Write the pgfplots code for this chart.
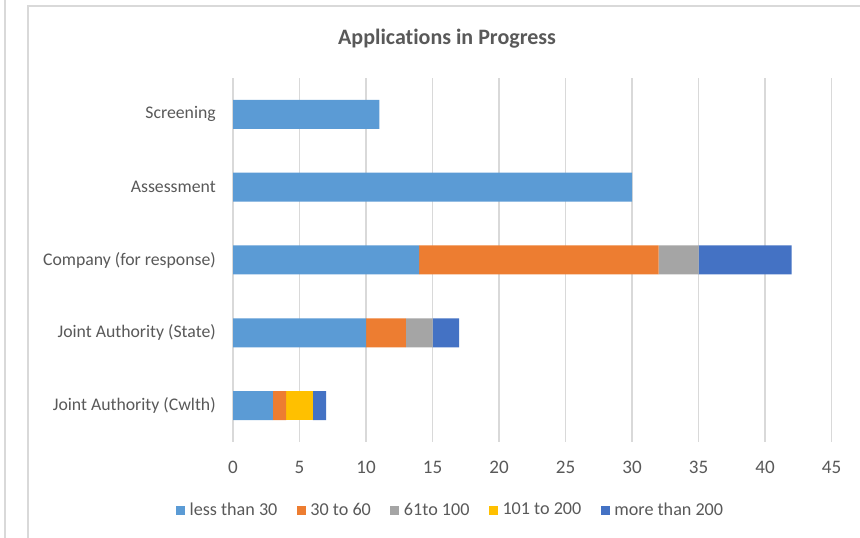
\documentclass[border=0pt]{standalone}
\usepackage{fontspec}
\setmainfont[Ligatures={NoCommon}]{Carlito}
\usepackage{pgfplots}
\pgfplotsset{compat=1.18}
\usepackage{pgfplotstable}
\definecolor{c1}{HTML}{5B9BD5}
\definecolor{c2}{HTML}{ED7D31}
\definecolor{c3}{HTML}{A5A5A5}
\definecolor{c4}{HTML}{FFC000}
\definecolor{c5}{HTML}{4472C4}
\definecolor{gridgray}{HTML}{D9D9D9}
\definecolor{framegray}{HTML}{D9D9D9}
\definecolor{txt}{HTML}{595959}
\pgfplotsset{sqleg/.style={legend image code/.code={\fill[##1] (0pt,-3.4pt) rectangle (6.8pt,3.4pt);}}}
\pgfplotstableread{
y a b c d e
0 3 1 0 2 1
1 10 3 2 0 2
2 14 18 3 0 7
3 30 0 0 0 0
4 11 0 0 0 0
}\data
\begin{document}
\begin{tikzpicture}
\path[use as bounding box] (0,0) rectangle (645pt,403.5pt);
\fill[white] (0,0) rectangle (645pt,403.5pt);
\draw[framegray, line width=1pt] (21pt,0) -- (21pt,399pt) -- (646pt,399pt);
\draw[framegray, line width=1pt] (3.75pt,0) -- (3.75pt,404pt);
\begin{axis}[
  at={(174.75pt,72pt)}, anchor=south west,
  scale only axis, width=448.9pt, height=273pt,
  xbar stacked, bar width=21.75pt,
  xmin=0, xmax=45, ymin=-0.5, ymax=4.5,
  xtick={0,5,...,45}, ytick={0,1,2,3,4},
  yticklabels={Joint Authority (Cwlth),Joint Authority (State),Company (for response),Assessment,Screening},
  xmajorgrids, grid style={draw=gridgray, line width=1.1pt},
  axis line style={draw=none}, major tick length=0pt,
  tick label style={text=txt},
  /pgf/number format/assume math mode=true,
  xticklabel style={font=\fontsize{14.3}{17}\selectfont, anchor=center, yshift=-18.75pt},
  yticklabel style={font=\fontsize{13.3}{16}\selectfont, inner sep=0pt, xshift=-12.75pt},
  title={Applications in Progress},
  title style={at={(0.3576,1.085)}, anchor=center, font=\bfseries\fontsize{16.5}{19}\selectfont, text=txt},
  legend columns=-1,
  legend style={at={(0.364,-0.187)}, anchor=center, draw=none, fill=none,
    font=\fontsize{13.6}{16}\selectfont, text=txt,
    /tikz/every even column/.append style={column sep=12.5pt},
    /tikz/every odd column/.append style={column sep=1.5pt}},
]
\addplot[fill=c1, draw=none, sqleg] table[x=a, y=y] {\data};
\addplot[fill=c2, draw=none, sqleg] table[x=b, y=y] {\data};
\addplot[fill=c3, draw=none, sqleg] table[x=c, y=y] {\data};
\addplot[fill=c4, draw=none, sqleg] table[x=d, y=y] {\data};
\addplot[fill=c5, draw=none, sqleg] table[x=e, y=y] {\data};
\legend{less than 30, 30 to 60, 61to 100, 101 to 200, more than 200}
\end{axis}
\end{tikzpicture}
\end{document}
